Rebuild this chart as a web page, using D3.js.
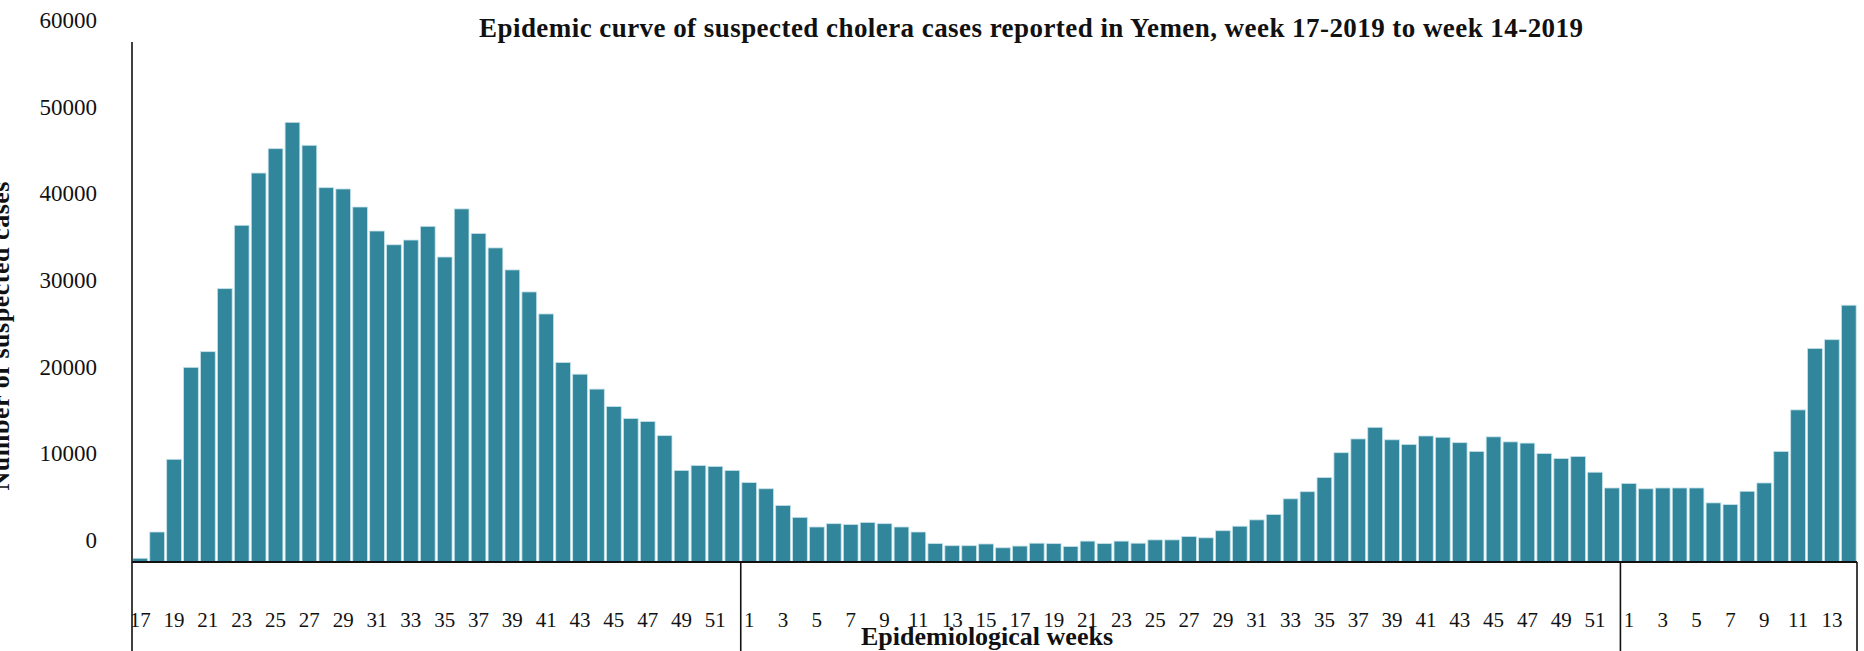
<!DOCTYPE html>
<html>
<head>
<meta charset="utf-8">
<script src="https://cdn.jsdelivr.net/npm/d3@7"></script>
<style>
  html, body { margin: 0; padding: 0; background: #fff; }
  svg { display: block; }
  text { font-family: "Liberation Serif", serif; fill: #111; }
</style>
</head>
<body>
<svg id="chart" width="1864" height="651"></svg>
<script>
// weekly suspected cholera cases
const weeks2017 = [17, 18, 19, 20, 21, 22, 23, 24, 25, 26, 27, 28, 29, 30, 31, 32, 33, 34,
  35, 36, 37, 38, 39, 40, 41, 42, 43, 44, 45, 46, 47, 48, 49, 50, 51, 52];
const cases2017 = [430, 3460, 11850, 22460, 24270, 31540, 38850, 44880, 47690, 50730, 48080, 43190,
  43040, 40960, 38190, 36600, 37150, 38730, 35190, 40740, 37910, 36240, 33700, 31160,
  28620, 23020, 21670, 19950, 17930, 16550, 16210, 14580, 10560, 11130, 11030, 10560];

const weeks2018 = [1, 2, 3, 4, 5, 6, 7, 8, 9, 10, 11, 12, 13, 14, 15, 16, 17, 18, 19, 20,
  21, 22, 23, 24, 25, 26, 27, 28, 29, 30, 31, 32, 33, 34, 35, 36, 37, 38, 39, 40,
  41, 42, 43, 44, 45, 46, 47, 48, 49, 50, 51, 52];
const cases2018 = [9160, 8450, 6530, 5150, 4040, 4420, 4330, 4570, 4420, 4040,
  3460, 2120, 1880, 1880, 2080, 1640, 1840, 2170, 2120, 1790,
  2410, 2120, 2410, 2170, 2550, 2550, 2940, 2790, 3610, 4130,
  4860, 5480, 7290, 8110, 9740, 12610, 14200, 15540, 14100, 13560,
  14540, 14390, 13770, 12760, 14440, 13860, 13720, 12520, 11940, 12180,
  10360, 8540];

const weeks2019 = [1, 2, 3, 4, 5, 6, 7, 8, 9, 10, 11, 12, 13, 14];
const cases2019 = [9070, 8450, 8540, 8540, 8540, 6820, 6620, 8160, 9120, 12760, 17550, 24640, 25650, 29630];

const yTicks = [0, 10000, 20000, 30000, 40000, 50000, 60000];

const Title = "Epidemic curve of suspected cholera cases reported in Yemen, week 17-2019 to week 14-2019";
const XTitle = "Epidemiological weeks";
const YTitle = "Number of suspected cases";

const BarColor = "#31869b";
const BarEdge = "#c4e2ea";

const W = 1864, H = 651;
const plotLeft = 132, plotRight = 1857, plotTop = 42, plotBottom = 562;
// y labels in the original sit a bit above their gridline
const LabelShift = -22;

const data = [];
weeks2017.forEach((w, i) => data.push({ key: "2017-" + w, week: w, value: cases2017[i] }));
weeks2018.forEach((w, i) => data.push({ key: "2018-" + w, week: w, value: cases2018[i] }));
weeks2019.forEach((w, i) => data.push({ key: "2019-" + w, week: w, value: cases2019[i] }));

const svg = d3.select("#chart");

const x = d3.scaleBand()
  .domain(data.map(d => d.key))
  .range([plotLeft, plotRight])
  .paddingInner(0.13)
  .paddingOuter(0.05);

const y = d3.scaleLinear().domain([0, 60000]).range([plotBottom, plotTop]);

// bars
svg.append("g")
  .selectAll("rect")
  .data(data)
  .join("rect")
  .attr("x", d => x(d.key))
  .attr("y", d => y(d.value))
  .attr("width", x.bandwidth())
  .attr("height", d => y(0) - y(d.value))
  .attr("fill", BarColor)
  .attr("stroke", BarEdge)
  .attr("stroke-width", 0.8);

// y axis labels
const yAxis = svg.append("g")
  .attr("transform", `translate(${plotLeft},${LabelShift})`)
  .call(d3.axisLeft(y).tickValues(yTicks).tickSize(0).tickPadding(35).tickFormat(d3.format("d")));
yAxis.select(".domain").remove();
yAxis.selectAll("text").style("font-family", "Liberation Serif, serif").style("font-size", "23px").attr("fill", "#111");

// x axis labels, every other week
const xAxis = svg.append("g")
  .attr("transform", `translate(0,${plotBottom})`)
  .call(d3.axisBottom(x)
    .tickValues(data.filter(d => d.week % 2 === 1).map(d => d.key))
    .tickFormat(k => k.split("-")[1])
    .tickSize(0).tickPadding(50));
xAxis.select(".domain").remove();
xAxis.selectAll("text").style("font-family", "Liberation Serif, serif").style("font-size", "21px").attr("fill", "#111");

// axis lines
svg.append("line")
  .attr("x1", plotLeft).attr("x2", plotLeft).attr("y1", y(60000)).attr("y2", H)
  .attr("stroke", "#111").attr("stroke-width", 1.6);
svg.append("line")
  .attr("x1", plotLeft).attr("x2", plotRight).attr("y1", plotBottom).attr("y2", plotBottom)
  .attr("stroke", "#111").attr("stroke-width", 2);

// year separators below the axis
const step = x.step();
const seps = [data[weeks2017.length].key, data[weeks2017.length + weeks2018.length].key];
seps.forEach(k => {
  const sx = x(k) - (step - x.bandwidth()) / 2;
  svg.append("line")
    .attr("x1", sx).attr("x2", sx).attr("y1", plotBottom).attr("y2", H)
    .attr("stroke", "#111").attr("stroke-width", 1.6);
});
svg.append("line")
  .attr("x1", plotRight).attr("x2", plotRight).attr("y1", plotBottom).attr("y2", H)
  .attr("stroke", "#111").attr("stroke-width", 1.6);

// titles
svg.append("text")
  .attr("x", 1031).attr("y", 37)
  .attr("text-anchor", "middle")
  .attr("textLength", 1104)
  .style("font-size", "27px").style("font-weight", "bold")
  .text(Title);

svg.append("text")
  .attr("x", 987).attr("y", 645)
  .attr("text-anchor", "middle")
  .attr("textLength", 252)
  .style("font-size", "26px").style("font-weight", "bold")
  .text(XTitle);

svg.append("text")
  .attr("transform", "translate(8.5,336) rotate(-90)")
  .attr("text-anchor", "middle")
  .attr("textLength", 309)
  .style("font-size", "26px").style("font-weight", "bold")
  .text(YTitle);
</script>
</body>
</html>
